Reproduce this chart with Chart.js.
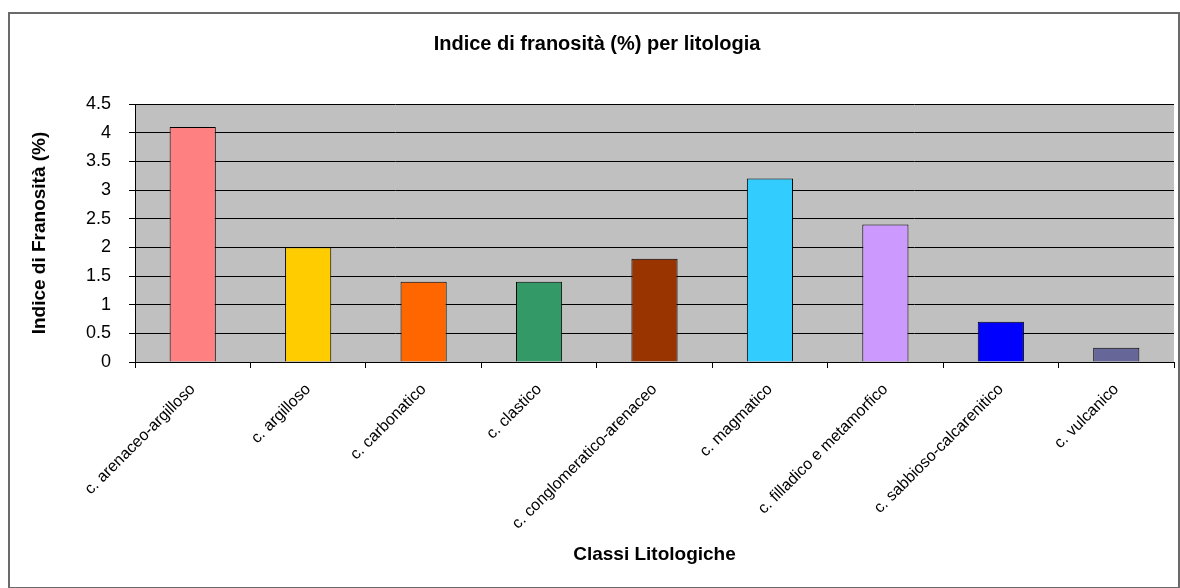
<!DOCTYPE html>
<html>
<head>
<meta charset="utf-8">
<script src="https://cdn.jsdelivr.net/npm/chart.js@4.4.0/dist/chart.umd.min.js"></script>
<style>
  html, body { margin: 0; padding: 0; background: #ffffff; }
  #wrap { position: relative; width: 1180px; height: 588px; overflow: hidden; }
  #c { position: absolute; left: 0; top: 0; }
  #frame { position: absolute; left: 8px; top: 12px; width: 1168px; height: 573px;
           border: 2px solid #6a6a6a; pointer-events: none; }
</style>
</head>
<body>
<div id="wrap">
  <canvas id="c" width="1180" height="588"></canvas>
  <div id="frame"></div>
</div>
<script>
const categories = [
  "c. arenaceo-argilloso",
  "c. argilloso",
  "c. carbonatico",
  "c. clastico",
  "c. conglomeratico-arenaceo",
  "c. magmatico",
  "c. filladico e metamorfico",
  "c. sabbioso-calcarenitico",
  "c. vulcanico"
];
const indiceFranosita = [4.1, 2.0, 1.4, 1.4, 1.8, 3.2, 2.4, 0.7, 0.25];
const barColors = ["#FF8080", "#FFCC00", "#FF6600", "#339966", "#993300",
                   "#33CCFF", "#CC99FF", "#0000FF", "#666699"];
const yTicks = [0, 0.5, 1, 1.5, 2, 2.5, 3, 3.5, 4, 4.5];

const chartTitle = "Indice di franosità (%) per litologia";
const yTitle = "Indice di Franosità (%)";
const xTitle = "Classi Litologiche";

const FONT = "'Liberation Sans', Arial, sans-serif";

const plotBg = {
  id: 'plotBg',
  beforeDraw(chart) {
    const a = chart.chartArea, ctx = chart.ctx;
    ctx.save();
    ctx.fillStyle = '#C0C0C0';
    ctx.fillRect(a.left, a.top, a.right - a.left, a.bottom - a.top);
    ctx.restore();
  }
};

new Chart(document.getElementById('c'), {
  type: 'bar',
  data: {
    labels: categories,
    datasets: [{
      data: indiceFranosita,
      backgroundColor: barColors,
      borderColor: '#000000',
      borderWidth: 1,
      barPercentage: 0.4,
      categoryPercentage: 1.0
    }]
  },
  options: {
    responsive: false,
    animation: false,
    devicePixelRatio: 1,
    layout: { padding: { left: 20, right: 6, top: 0, bottom: 12 } },
    plugins: {
      legend: { display: false },
      tooltip: { enabled: false },
      title: {
        display: true,
        text: chartTitle,
        color: '#000',
        font: { family: FONT, size: 20, weight: 'bold' },
        padding: { top: 32, bottom: 48 }
      }
    },
    scales: {
      x: {
        offset: true,
        grid: { display: true, drawOnChartArea: false, drawTicks: true, tickLength: 6, color: '#000', offset: true },
        border: { display: true, color: '#000', width: 1 },
        ticks: {
          color: '#000',
          font: { family: FONT, size: 16 },
          minRotation: 45, maxRotation: 45,
          autoSkip: false,
          padding: 12
        },
        title: {
          display: true,
          text: xTitle,
          color: '#000',
          font: { family: FONT, size: 19, weight: 'bold' },
          padding: { top: 4, bottom: 10 }
        },
        afterFit(scale) { scale.height = 214; }
      },
      y: {
        min: 0,
        max: 4.5,
        grid: { color: '#000', lineWidth: 1, tickLength: 6, drawTicks: true },
        border: { display: true, color: '#000', width: 1 },
        afterBuildTicks(scale) { scale.ticks = yTicks.map(v => ({ value: v })); },
        ticks: {
          color: '#000',
          font: { family: FONT, size: 18 },
          padding: 18,
          callback: (v) => String(v)
        },
        title: {
          display: true,
          text: yTitle,
          color: '#000',
          font: { family: FONT, size: 19, weight: 'bold' },
          padding: { top: 8, bottom: 4 }
        },
        afterFit(scale) { scale.width = 115; }
      }
    }
  },
  plugins: [plotBg]
});
</script>
</body>
</html>
